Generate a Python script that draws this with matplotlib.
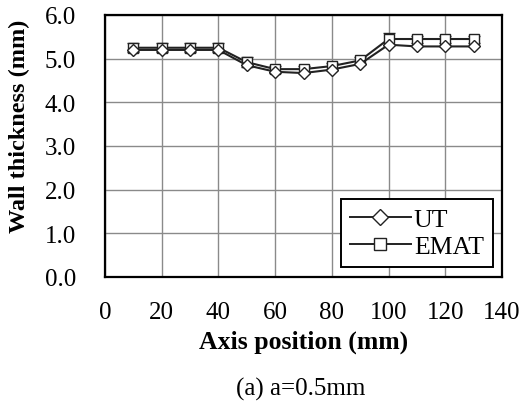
import matplotlib
matplotlib.use('agg')
import matplotlib.pyplot as plt
from matplotlib.lines import Line2D

# Wall thickness along the axis position
positions = [10, 20, 30, 40, 50, 60, 70, 80, 90, 100, 110, 120, 130]
ut_thickness = [5.2, 5.2, 5.2, 5.2, 4.85, 4.7, 4.67, 4.75, 4.88, 5.32, 5.28, 5.28, 5.28]
emat_thickness = [5.25, 5.25, 5.25, 5.25, 4.92, 4.76, 4.76, 4.83, 4.96, 5.45, 5.45, 5.45, 5.45]
emat_err = [0.1, 0.1, 0.1, 0.1, 0.12, 0.08, 0.08, 0.08, 0.08, 0.14, 0.08, 0.08, 0.08]

x_ticks = [0, 20, 40, 60, 80, 100, 120, 140]
y_ticks = [0, 1, 2, 3, 4, 5, 6]

plt.rcParams['font.family'] = ['Liberation Serif', 'DejaVu Serif']
line_col = '#222222'

fig = plt.figure(figsize=(5.24, 4.06), dpi=100)
ax = fig.add_axes([0.2004, 0.3153, 0.7576, 0.6453])

ax.errorbar(positions, emat_thickness, yerr=emat_err, color=line_col,
            linewidth=1.5, capsize=4, elinewidth=1.0, marker='s',
            markersize=7.5, markerfacecolor='white', markeredgecolor=line_col,
            zorder=3)
ax.plot(positions, ut_thickness, color=line_col, linewidth=1.5, marker='D',
        markersize=6.5, markerfacecolor='white', markeredgecolor=line_col,
        zorder=4)

ax.set_xlim(0, 140)
ax.set_ylim(0, 6)
ax.set_xticks(x_ticks)
ax.set_yticks(y_ticks)
ax.set_yticklabels([f"{v:.1f}" for v in y_ticks])
ax.tick_params(axis='both', labelsize=18, length=0)
ax.tick_params(axis='x', pad=17)
ax.tick_params(axis='y', pad=21)
ax.grid(True, color='#8a8a8a', linewidth=1.0)
ax.set_axisbelow(True)
for sp in ax.spines.values():
    sp.set_color('black')
    sp.set_linewidth(1.6)

ax.set_xlabel('Axis position (mm)', fontsize=18.5, fontweight='bold', labelpad=5)
fig.text(0.038, 0.69, 'Wall thickness (mm)', rotation=90, ha='center',
         va='center', fontsize=17.5, fontweight='bold')

handles = [
    Line2D([], [], color=line_col, linewidth=1.4, marker='D', markersize=8,
           markerfacecolor='white', markeredgecolor=line_col),
    Line2D([], [], color=line_col, linewidth=1.4, marker='s', markersize=8.5,
           markerfacecolor='white', markeredgecolor=line_col),
]
leg = ax.legend(handles, ['UT', 'EMAT'], loc='lower right', fontsize=18.5,
                fancybox=False, framealpha=1, edgecolor='black',
                handlelength=2.4, handletextpad=0.1, borderpad=0.35,
                labelspacing=0.15, borderaxespad=0,
                bbox_to_anchor=(0.977, 0.038))
leg.get_frame().set_linewidth(1.4)

fig.text(0.573, 0.04, '(a) a=0.5mm', ha='center', va='center', fontsize=18)

fig.savefig('out.png', dpi=100, facecolor='white')
plt.close(fig)
